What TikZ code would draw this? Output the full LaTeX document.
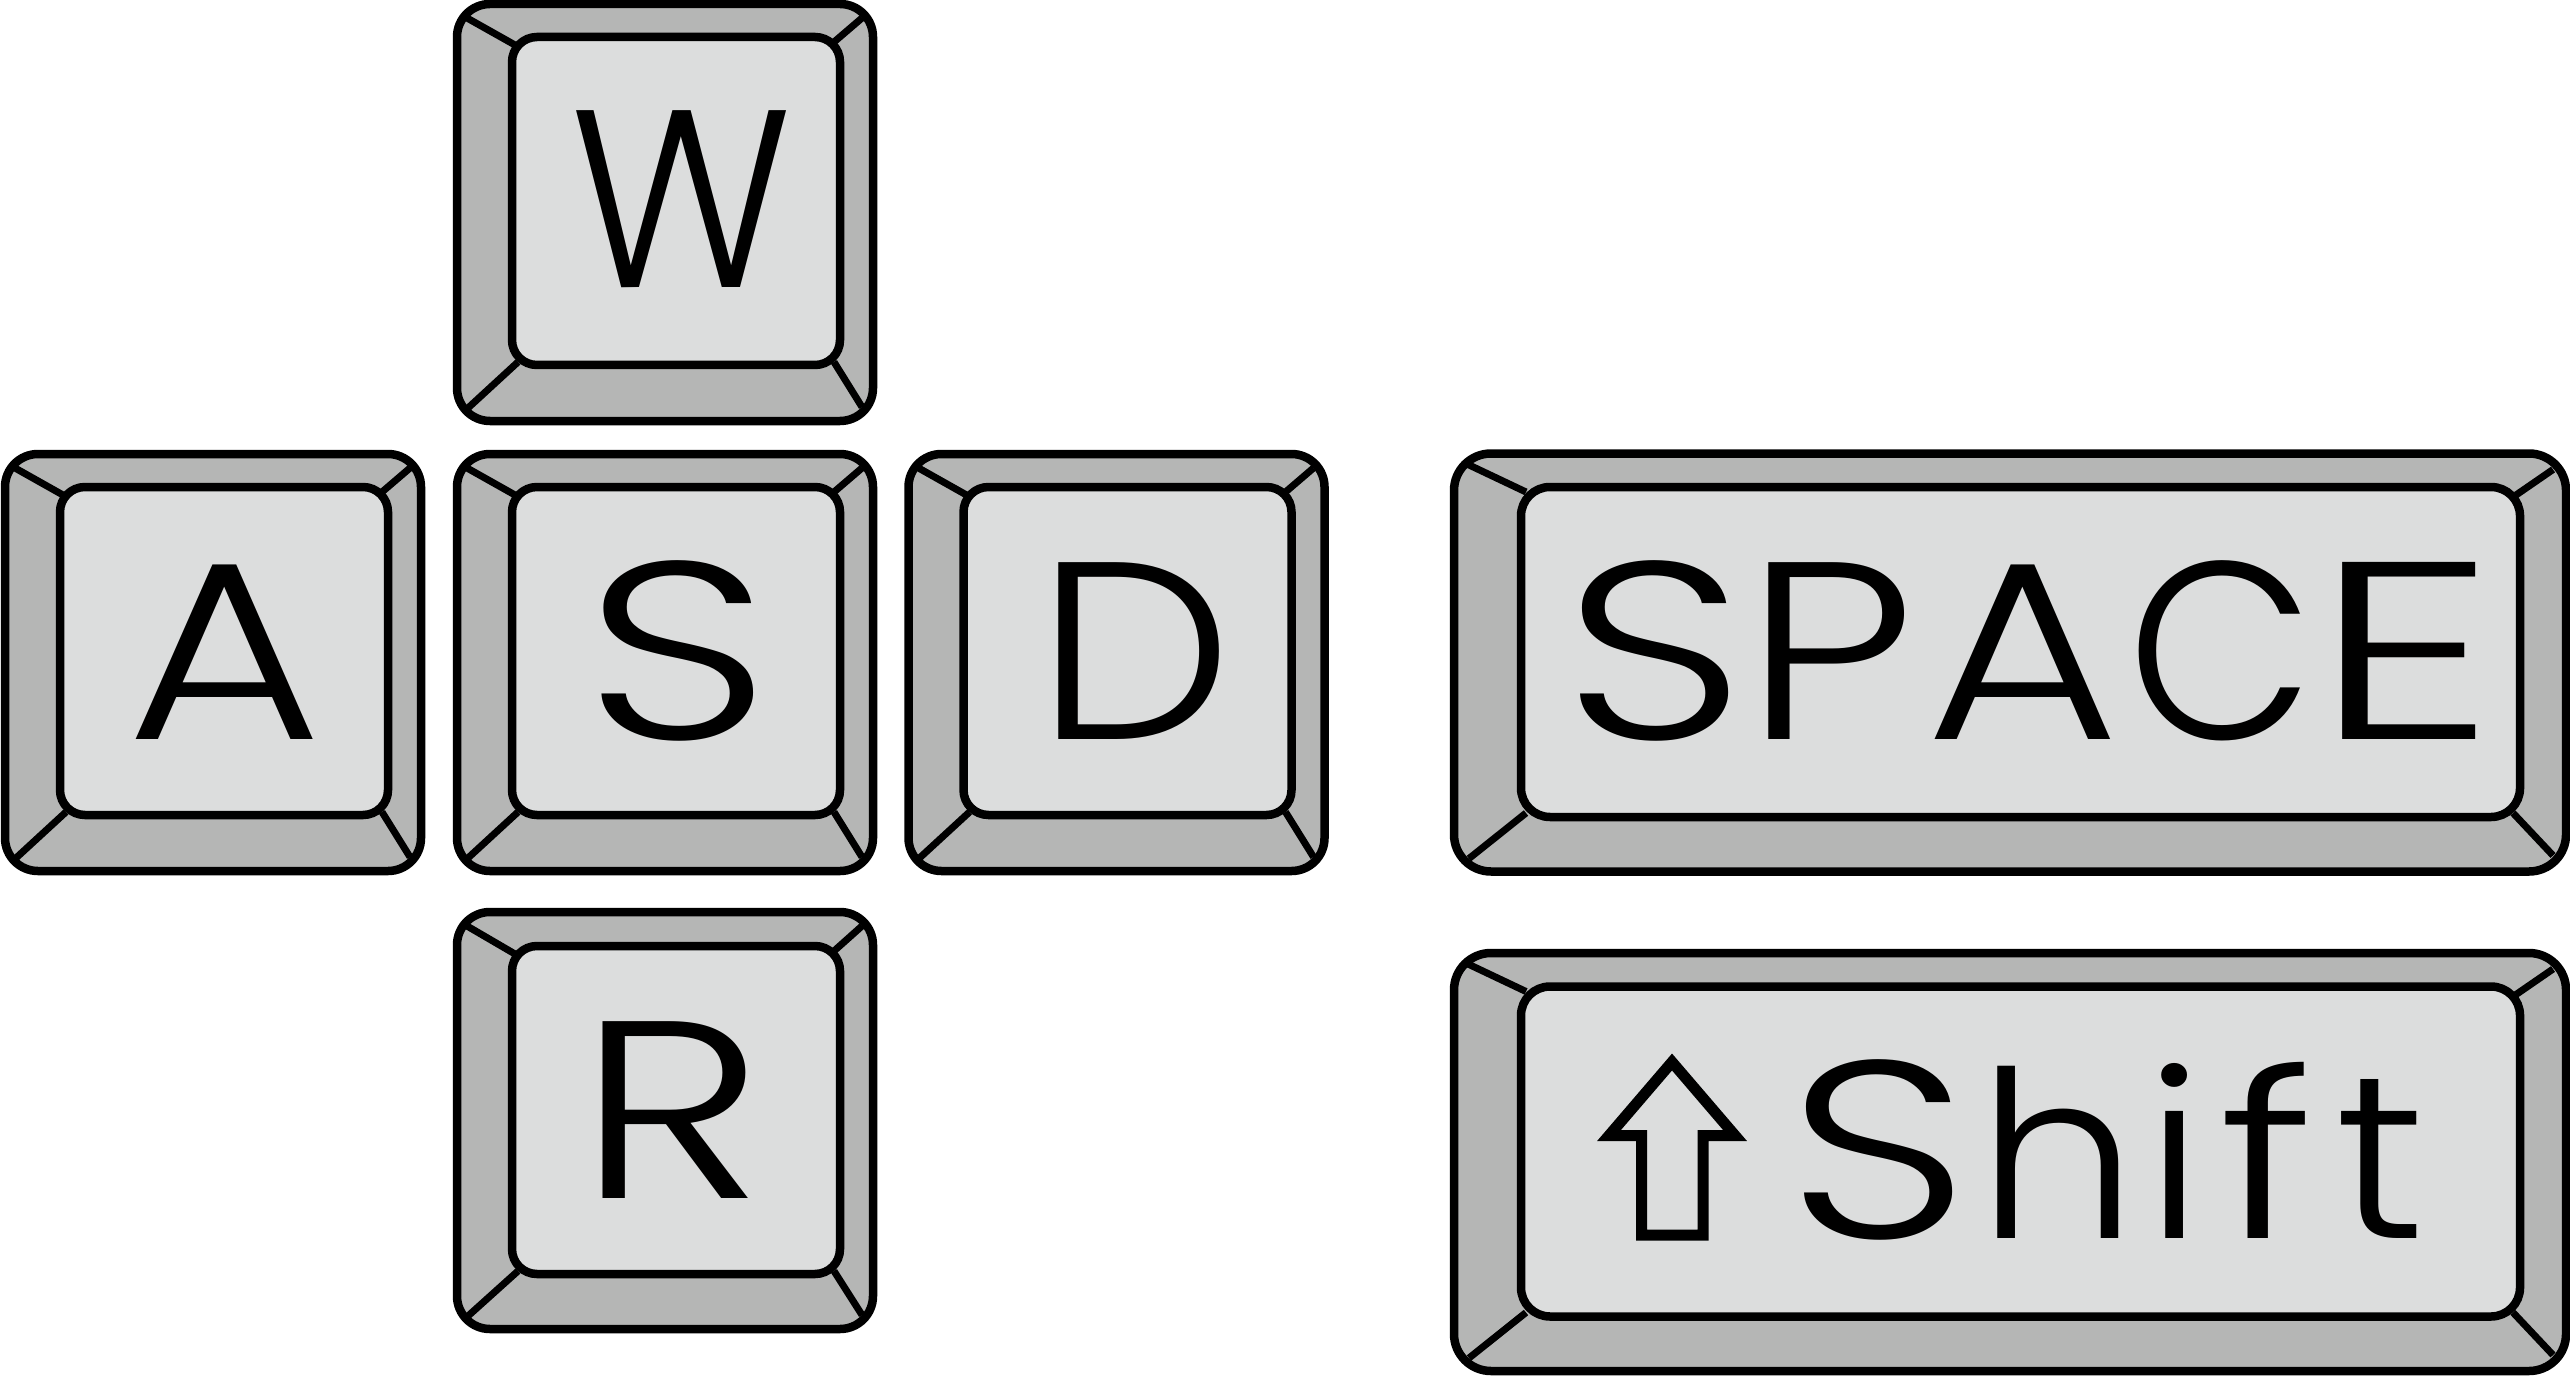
\documentclass[tikz,border=0pt]{standalone}
\usepackage{fontspec}
\usepackage{graphicx}
\usetikzlibrary{calc}
\newfontfamily\keyfont[UprightFont=* Light]{Poppins}
\definecolor{capside}{HTML}{B5B6B5}
\definecolor{captop}{HTML}{DCDDDD}
\tikzset{
  keybase/.style={draw,fill=capside,line width=.85mm,inner sep=0,outer sep=0,rounded corners=3.3mm,minimum width=4.16cm,minimum height=4.17cm},
  keytop/.style={draw,fill=captop,line width=.85mm,inner sep=0,outer sep=0,rounded corners=2.5mm,minimum width=3.28cm,minimum height=3.28cm},
  widebase/.style={keybase,rounded corners=3.7mm,minimum width=11.12cm,minimum height=4.18cm},
  widetop/.style={keytop,rounded corners=2.9mm,minimum width=9.99cm,minimum height=3.30cm},
  keylabel/.style={anchor=base,inner sep=0,font=\keyfont\fontsize{72}{72}\selectfont},
  bevel/.style={line width=.7mm}
}
\begin{document}
\begin{tikzpicture}
  \useasboundingbox (0,0) rectangle (25.70,13.76);
  % lower part of each cap
  \node[keybase] (wbase) at (6.65,11.635) {};
  \node[keybase] (abase) at (2.13,7.135) {};
  \node[keybase] (sbase) at (6.65,7.135) {};
  \node[keybase] (dbase) at (11.165,7.135) {};
  \node[keybase] (rbase) at (6.65,2.555) {};
  \node[widebase] (spacebase) at (20.10,7.135) {};
  \node[widebase] (shiftbase) at (20.10,2.14) {};
  % upper part of each cap
  \node[keytop] (wtop) at (6.76,11.75) {};
  \node[keytop] (atop) at (2.24,7.25) {};
  \node[keytop] (stop) at (6.76,7.25) {};
  \node[keytop] (dtop) at (11.275,7.25) {};
  \node[keytop] (rtop) at (6.76,2.66) {};
  \node[widetop] (spacetop) at (20.205,7.24) {};
  \node[widetop] (shifttop) at (20.205,2.245) {};
  % corner lines
  \begin{scope}[bevel]
    \draw ($(wbase.north west)+(.10,-.14)$) to ($(wtop.north west)+(.03,-.08)$);
    \draw ($(wbase.north east)+(-.11,-.14)$) to ($(wtop.north east)+(-.06,-.05)$);
    \draw ($(wbase.south west)+(.11,.13)$) to ($(wtop.south west)+(.06,.03)$);
    \draw ($(wbase.south east)+(-.11,.14)$) to ($(wtop.south east)+(-.06,.03)$);
    \draw ($(abase.north west)+(.10,-.14)$) to ($(atop.north west)+(.03,-.08)$);
    \draw ($(abase.north east)+(-.11,-.14)$) to ($(atop.north east)+(-.06,-.05)$);
    \draw ($(abase.south west)+(.11,.13)$) to ($(atop.south west)+(.06,.03)$);
    \draw ($(abase.south east)+(-.11,.14)$) to ($(atop.south east)+(-.06,.03)$);
    \draw ($(sbase.north west)+(.10,-.14)$) to ($(stop.north west)+(.03,-.08)$);
    \draw ($(sbase.north east)+(-.11,-.14)$) to ($(stop.north east)+(-.06,-.05)$);
    \draw ($(sbase.south west)+(.11,.13)$) to ($(stop.south west)+(.06,.03)$);
    \draw ($(sbase.south east)+(-.11,.14)$) to ($(stop.south east)+(-.06,.03)$);
    \draw ($(dbase.north west)+(.10,-.14)$) to ($(dtop.north west)+(.03,-.08)$);
    \draw ($(dbase.north east)+(-.11,-.14)$) to ($(dtop.north east)+(-.06,-.05)$);
    \draw ($(dbase.south west)+(.11,.13)$) to ($(dtop.south west)+(.06,.03)$);
    \draw ($(dbase.south east)+(-.11,.14)$) to ($(dtop.south east)+(-.06,.03)$);
    \draw ($(rbase.north west)+(.10,-.14)$) to ($(rtop.north west)+(.03,-.08)$);
    \draw ($(rbase.north east)+(-.11,-.14)$) to ($(rtop.north east)+(-.06,-.05)$);
    \draw ($(rbase.south west)+(.11,.13)$) to ($(rtop.south west)+(.06,.03)$);
    \draw ($(rbase.south east)+(-.11,.14)$) to ($(rtop.south east)+(-.06,.03)$);
    \draw ($(spacebase.north west)+(.14,-.11)$) to ($(spacetop.north west)+(.05,-.05)$);
    \draw ($(spacebase.north east)+(-.13,-.16)$) to ($(spacetop.north east)+(-.04,-.08)$);
    \draw ($(spacebase.south west)+(.15,.13)$) to ($(spacetop.south west)+(.05,.04)$);
    \draw ($(spacebase.south east)+(-.13,.16)$) to ($(spacetop.south east)+(-.07,.04)$);
    \draw ($(shiftbase.north west)+(.14,-.11)$) to ($(shifttop.north west)+(.05,-.05)$);
    \draw ($(shiftbase.north east)+(-.13,-.16)$) to ($(shifttop.north east)+(-.04,-.08)$);
    \draw ($(shiftbase.south west)+(.15,.13)$) to ($(shifttop.south west)+(.05,.04)$);
    \draw ($(shiftbase.south east)+(-.13,.16)$) to ($(shifttop.south east)+(-.07,.04)$);
  \end{scope}
  % letters
  \node[keylabel] (wlabel) at (6.82,10.88) {\scalebox{.92}[1]{W}};
  \node[keylabel] (alabel) at (2.243,6.37) {\scalebox{1.19}[1]{A}};
  \node[keylabel] (slabel) at (6.78,6.37) {\scalebox{1.3}[1]{S}};
  \node[keylabel] (dlabel) at (11.35,6.37) {\scalebox{1.1}[1]{D}};
  \node[keylabel] (rlabel) at (6.715,1.78) {\scalebox{1.26}[1]{R}};
  \node[keylabel] (spacelabel) at (20.30,6.37) {\scalebox{1.27}[1]{S}\kern-.02cm\scalebox{1.2}[1]{P}\kern.1cm\scalebox{1.18}[1]{A}\kern.07cm\scalebox{.96}[1]{C}\kern-.01cm\scalebox{1.44}[1]{E}};
  \node[keylabel] (shiftlabel) at (21.06,1.38) {\scalebox{1.27}[1]{S}\kern.07cm\scalebox{1}[.92]{h}\kern.08cm\scalebox{1}[.92]{i}\kern.16cm\scalebox{1.15}[.92]{f}\kern.21cm\scalebox{1}[.92]{t}};
  % arrow on the shift cap
  \draw[line width=1.1mm,miter limit=10]
    (16.72,3.14) -- (17.35,2.405) -- (17.03,2.405) -- (17.03,1.41)
    -- (16.415,1.41) -- (16.415,2.405) -- (16.09,2.405) -- cycle;
\end{tikzpicture}
\end{document}
